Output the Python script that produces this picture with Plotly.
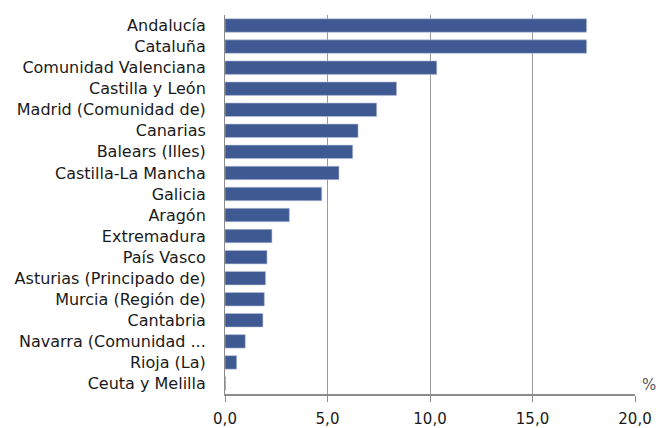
import plotly.graph_objects as go

regions = ["Andalucía", "Cataluña", "Comunidad Valenciana", "Castilla y León",
           "Madrid (Comunidad de)", "Canarias", "Balears (Illes)", "Castilla-La Mancha",
           "Galicia", "Aragón", "Extremadura", "País Vasco", "Asturias (Principado de)",
           "Murcia (Región de)", "Cantabria", "Navarra (Comunidad ...", "Rioja (La)",
           "Ceuta y Melilla"]
values = [17.64, 17.64, 10.33, 8.37, 7.40, 6.49, 6.23, 5.56, 4.72, 3.14, 2.29, 2.05,
          1.98, 1.92, 1.85, 0.99, 0.57, 0.03]
x_ticks = [0, 5, 10, 15, 20]

fig = go.Figure(go.Bar(
    x=values, y=regions, orientation="h",
    marker=dict(color="#3F5A92", line=dict(color="#B9C3DA", width=0.6)),
    width=0.64,
))

fig.update_layout(
    width=662, height=428,
    margin=dict(l=225, r=27, t=15, b=34),
    paper_bgcolor="white", plot_bgcolor="white",
    separators=",.",
    showlegend=False,
    font=dict(family="DejaVu Sans", size=16, color="#1a1a1a"),
    bargap=0.36,
)
fig.update_xaxes(
    range=[0, 20], tickvals=x_ticks, tickformat=".1f",
    showgrid=True, gridcolor="#9a9a9a", gridwidth=1,
    showline=True, linecolor="#8c8c8c", linewidth=2,
    ticks="outside", ticklen=6, tickcolor="#8c8c8c", tickwidth=1,
    ticklabelstandoff=4, zeroline=False, automargin=False,
    tickfont=dict(size=15),
)
fig.update_yaxes(
    categoryorder="array", categoryarray=regions, autorange="reversed",
    showline=True, linecolor="#8c8c8c", linewidth=1,
    ticks="", ticklabelstandoff=15, showgrid=False, automargin=False,
    tickfont=dict(size=16),
)
fig.add_annotation(text="%", x=1.0, y=0.0, xref="paper", yref="paper",
                   xanchor="left", yanchor="bottom", xshift=5, yshift=-2,
                   showarrow=False, font=dict(size=15, color="#555555"))

fig.write_html("out.html", post_script="document.body.style.margin='0';",
               config={"displayModeBar": False})
